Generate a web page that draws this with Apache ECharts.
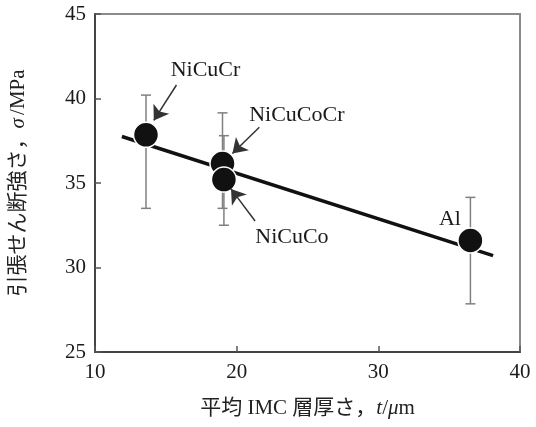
<!DOCTYPE html>
<html>
<head>
<meta charset="utf-8">
<script src="https://cdn.jsdelivr.net/npm/echarts@6/dist/echarts.min.js"></script>
<style>
  html, body { margin: 0; padding: 0; background: #fff; }
  #chart { width: 536px; height: 427px; }
</style>
</head>
<body>
<div id="chart"></div>
<script>
// 試料ごとの値
const materials = ['NiCuCr', 'NiCuCoCr', 'NiCuCo', 'Al']
const thickness = [13.6, 19.0, 19.1, 36.5]
const strength = [37.85, 36.15, 35.2, 31.6]
const errHigh = [40.2, 39.15, 37.8, 34.15]
const errLow = [33.5, 33.5, 32.5, 27.85]

// 近似直線
const fitX = [11.9, 38.1]
const fitY = [37.75, 30.7]

// 注記 (ラベル位置と矢印)
const labelX = [17.8, 24.25, 23.9, 35.05]
const labelY = [41.65, 39.0, 31.8, 32.85]
const arrowFromX = [15.75, 21.6, 21.3]
const arrowFromY = [40.8, 38.3, 32.75]
const arrowToX = [14.15, 19.7, 19.6]
const arrowToY = [38.7, 36.75, 34.65]

// 軸目盛
const xTicks = [10, 40, 10]
const yTicks = [25, 45, 5]

const serif = "'Liberation Serif', 'Noto Sans CJK JP', serif"

const chart = echarts.init(document.getElementById('chart'))

const titleRich = {
  n: { fontFamily: serif, fontSize: 21, color: '#222' },
  i: { fontFamily: serif, fontSize: 21, fontStyle: 'italic', color: '#222' }
}

const option = {
  animation: false,
  grid: {
    left: 94,
    right: 16,
    top: 14,
    bottom: 75,
    show: true,
    borderColor: '#8a8a8a',
    borderWidth: 2
  },
  xAxis: {
    type: 'value',
    min: xTicks[0],
    max: xTicks[1],
    interval: xTicks[2],
    splitLine: { show: false },
    axisLine: { lineStyle: { color: '#444', width: 2 } },
    axisTick: { inside: true, length: 6, lineStyle: { color: '#555', width: 1.5 } },
    axisLabel: { color: '#1a1a1a', fontFamily: serif, fontSize: 21, margin: 10 },
    name: '{n|平均 IMC 層厚さ，}{i|t}{n|/}{i|μ}{n|m}',
    nameLocation: 'middle',
    nameGap: 46,
    nameTextStyle: { rich: titleRich }
  },
  yAxis: {
    type: 'value',
    min: yTicks[0],
    max: yTicks[1],
    interval: yTicks[2],
    splitLine: { show: false },
    axisLine: { lineStyle: { color: '#444', width: 2 } },
    axisTick: { inside: true, length: 6, lineStyle: { color: '#555', width: 1.5 } },
    axisLabel: { color: '#1a1a1a', fontFamily: serif, fontSize: 21, margin: 9 },
    name: '{n|引張せん断強さ，}{i|σ} {n|/MPa}',
    nameLocation: 'middle',
    nameRotate: 90,
    nameGap: 66,
    nameTextStyle: { rich: titleRich }
  },
  series: [
    {
      // 誤差棒
      type: 'custom',
      z: 1,
      silent: true,
      data: thickness.map((x, i) => [x, errLow[i], errHigh[i]]),
      renderItem: (params, api) => {
        const lo = api.coord([api.value(0), api.value(1)])
        const hi = api.coord([api.value(0), api.value(2)])
        const w = 5
        const style = { stroke: '#808080', lineWidth: 1.5 }
        return {
          type: 'group',
          children: [
            { type: 'line', shape: { x1: hi[0], y1: hi[1], x2: lo[0], y2: lo[1] }, style },
            { type: 'line', shape: { x1: hi[0] - w, y1: hi[1], x2: hi[0] + w, y2: hi[1] }, style },
            { type: 'line', shape: { x1: lo[0] - w, y1: lo[1], x2: lo[0] + w, y2: lo[1] }, style }
          ]
        }
      }
    },
    {
      // 近似直線
      type: 'line',
      z: 2,
      silent: true,
      symbol: 'none',
      data: fitX.map((x, i) => [x, fitY[i]]),
      lineStyle: { color: '#111', width: 3.5 }
    },
    {
      type: 'scatter',
      z: 3,
      symbolSize: 25,
      data: thickness.map((x, i) => [x, strength[i]]),
      itemStyle: { color: '#111', opacity: 1, borderColor: '#fff', borderWidth: 1.5 }
    },
    {
      // 注記
      type: 'scatter',
      z: 4,
      silent: true,
      symbolSize: 0,
      data: labelX.map((x, i) => ({ value: [x, labelY[i]], name: materials[i] })),
      itemStyle: { opacity: 1 },
      label: {
        show: true,
        position: 'inside',
        formatter: '{b}',
        fontFamily: serif,
        fontSize: 22,
        color: '#1a1a1a'
      },
      markLine: {
        silent: true,
        symbol: ['none', 'arrow'],
        symbolSize: 14,
        lineStyle: { color: '#333', width: 1.5, type: 'solid', opacity: 1 },
        label: { show: false },
        data: arrowFromX.map((x, i) => [
          { coord: [x, arrowFromY[i]] },
          { coord: [arrowToX[i], arrowToY[i]] }
        ])
      }
    }
  ]
}

chart.setOption(option)
</script>
</body>
</html>
